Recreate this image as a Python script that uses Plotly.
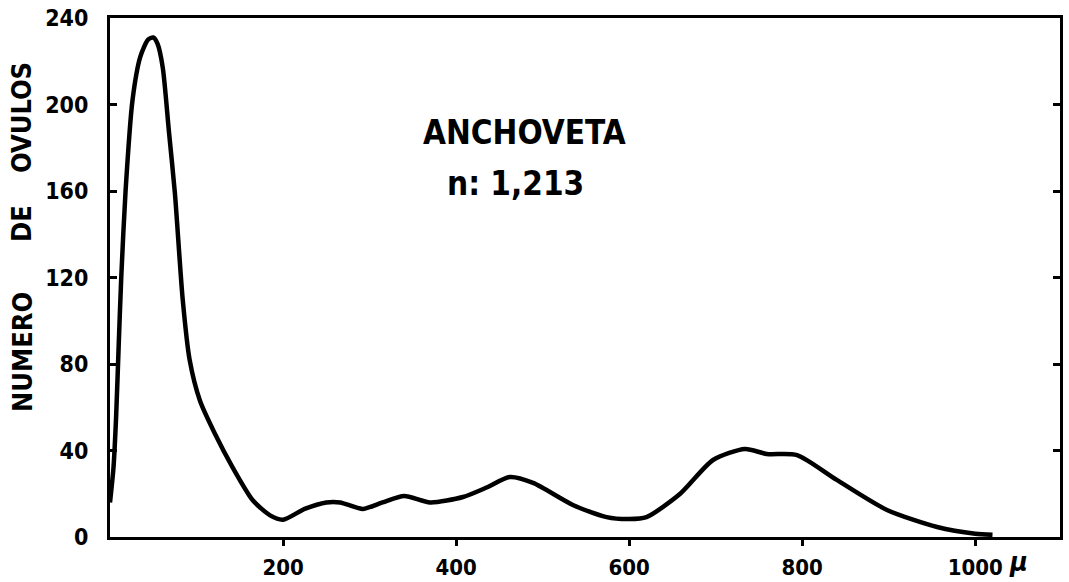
import plotly.graph_objects as go

# Egg size (microns) and number of eggs
size_um = [0, 4, 7, 10, 13, 18, 26, 35, 44, 50, 55, 61, 68, 75, 84, 92, 104, 121, 142, 165,
           185, 200, 225, 250, 266, 292, 315, 340, 370, 408, 436, 462, 489, 535, 574, 600,
           620, 659, 697, 734, 759, 794, 840, 898, 956, 1000, 1020]
n_ovulos = [16, 32, 55, 88, 120, 160, 202, 222, 230, 231, 228, 217, 188, 159, 110, 82, 63, 48, 32, 17,
            10, 8, 13, 16, 16, 13, 16, 19, 16, 18.5, 23, 27.7, 25, 14.8, 9.2, 8.3,
            9.2, 20, 35.6, 40.7, 38.4, 37.9, 26.4, 12.5, 4.6, 1.5, 1]

x_ticks = [200, 400, 600, 800, 1000]
y_ticks = [0, 40, 80, 120, 160, 200, 240]

FONT = "DejaVu Sans Condensed, DejaVu Sans, sans-serif"

fig = go.Figure()
fig.add_trace(go.Scatter(
    x=size_um, y=n_ovulos, mode="lines",
    line=dict(color="black", width=4.5, shape="spline", smoothing=0.7),
    hoverinfo="skip", showlegend=False,
))

fig.update_layout(
    width=1069, height=582,
    margin=dict(l=110, r=9, t=18, b=45, autoexpand=False),
    paper_bgcolor="white", plot_bgcolor="white",
    xaxis=dict(
        range=[0, 1098], tickvals=x_ticks, ticktext=[str(v) for v in x_ticks],
        showgrid=False, zeroline=False, automargin=False,
        showline=True, linecolor="black", linewidth=3, mirror=True,
        ticks="outside", ticklen=6, tickwidth=3, tickcolor="black",
        ticklabelstandoff=3,
        tickfont=dict(family=FONT, size=22, color="black", weight="bold"),
    ),
    yaxis=dict(
        range=[0, 240], tickvals=y_ticks, ticktext=[str(v) for v in y_ticks],
        showgrid=False, zeroline=False, automargin=False,
        showline=True, linecolor="black", linewidth=3, mirror="ticks",
        ticks="inside", ticklen=7, tickwidth=3, tickcolor="black",
        ticklabelstandoff=14,
        tickfont=dict(family=FONT, size=23, color="black", weight="bold"),
    ),
    annotations=[
        dict(text="ANCHOVETA", xref="paper", yref="paper", x=(524 - 110) / 950, y=(537 - 132) / 519,
             showarrow=False, xanchor="center", yanchor="middle",
             font=dict(family=FONT, size=33, color="black", weight="bold")),
        dict(text="n: 1,213", xref="paper", yref="paper", x=(515 - 110) / 950, y=(537 - 183) / 519,
             showarrow=False, xanchor="center", yanchor="middle",
             font=dict(family=FONT, size=33, color="black", weight="bold")),
        dict(text="µ", xref="paper", yref="paper", x=(1018 - 110) / 950, y=-(561 - 537) / 519,
             showarrow=False, xanchor="center", yanchor="middle",
             font=dict(family=FONT, size=27, color="black", weight="bold", style="italic")),
        dict(text="NUMERO", xref="paper", yref="paper", x=-(110 - 22) / 950, y=(537 - 352) / 519,
             showarrow=False, xanchor="center", yanchor="middle", textangle=-90,
             font=dict(family=FONT, size=27, color="black", weight="bold")),
        dict(text="DE", xref="paper", yref="paper", x=-(110 - 22) / 950, y=(537 - 224) / 519,
             showarrow=False, xanchor="center", yanchor="middle", textangle=-90,
             font=dict(family=FONT, size=27, color="black", weight="bold")),
        dict(text="OVULOS", xref="paper", yref="paper", x=-(110 - 22) / 950, y=(537 - 118) / 519,
             showarrow=False, xanchor="center", yanchor="middle", textangle=-90,
             font=dict(family=FONT, size=27, color="black", weight="bold")),
    ],
)

fig.write_html("out.html", config={"displayModeBar": False},
               post_script="document.body.style.margin='0';document.body.style.overflow='hidden';")
